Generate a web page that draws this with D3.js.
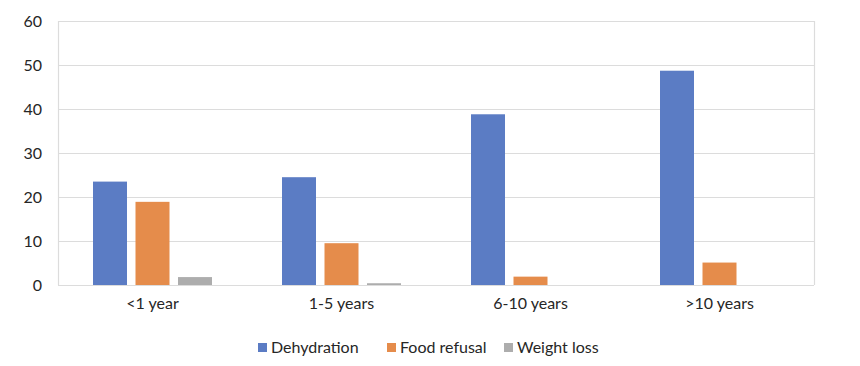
<!DOCTYPE html>
<html>
<head>
<meta charset="utf-8">
<script src="https://cdn.jsdelivr.net/npm/d3@7"></script>
<style>
  body { margin: 0; background: #fff; }
  text { font-family: Lato, "Open Sans", sans-serif; fill: #262626; }
</style>
</head>
<body>
<div id="chart"></div>
<script>
// data
const categories = ["<1 year", "1-5 years", "6-10 years", ">10 years"];
const seriesNames = ["Dehydration", "Food refusal", "Weight loss"];
const dehydration = [23.5, 24.5, 38.8, 48.7];
const foodRefusal = [18.9, 9.5, 1.9, 5.1];
const weightLoss = [1.8, 0.4, 0, 0];
const yTicks = [0, 10, 20, 30, 40, 50, 60];
const colors = ["#5B7CC4", "#E58C4B", "#ADADAD"];

const values = [dehydration, foodRefusal, weightLoss];

const W = 860, H = 366;
const margin = {top: 21, right: 46, bottom: 81, left: 58};
const width = W - margin.left - margin.right;
const height = H - margin.top - margin.bottom;

const svg = d3.select("#chart").append("svg")
    .attr("width", W)
    .attr("height", H);

const g = svg.append("g")
    .attr("transform", `translate(${margin.left},${margin.top})`);

const x = d3.scaleBand()
    .domain(categories)
    .range([0, width]);

const barW = 34, gap = 8.5;
const x1 = d3.scaleBand()
    .domain(seriesNames)
    .range([0, barW * 3 + gap * 2])
    .paddingInner(gap / (barW + gap));

const y = d3.scaleLinear()
    .domain([0, 60])
    .range([height, 0]);

// gridlines
g.append("g")
  .selectAll("line")
  .data(yTicks)
  .join("line")
    .attr("x1", 0)
    .attr("x2", width)
    .attr("y1", d => y(d) + 0.5)
    .attr("y2", d => y(d) + 0.5)
    .attr("stroke", "#dcdcdc")
    .attr("stroke-width", 1.2);

// box sides
g.append("line")
    .attr("x1", 0.5).attr("x2", 0.5)
    .attr("y1", 0).attr("y2", height)
    .attr("stroke", "#dcdcdc").attr("stroke-width", 1.2);
g.append("line")
    .attr("x1", width + 0.5).attr("x2", width + 0.5)
    .attr("y1", 0).attr("y2", height)
    .attr("stroke", "#dcdcdc").attr("stroke-width", 1.2);

// y axis labels
const yAxis = g.append("g")
    .call(d3.axisLeft(y).tickValues(yTicks).tickSize(0).tickPadding(16));
yAxis.select(".domain").remove();
yAxis.selectAll("text")
    .style("font-size", "16px")
    .attr("fill", "#262626");

// bars
const groups = g.append("g")
  .selectAll("g")
  .data(categories)
  .join("g")
    .attr("transform", c => `translate(${x(c) + x.bandwidth() / 2 - (barW * 3 + gap * 2) / 2},0)`);

groups.selectAll("rect")
  .data((c, i) => seriesNames.map((s, j) => ({s: s, v: values[j][i], c: colors[j]})))
  .join("rect")
    .attr("x", d => x1(d.s))
    .attr("width", x1.bandwidth())
    .attr("y", d => y(d.v))
    .attr("height", d => height - y(d.v))
    .attr("fill", d => d.c);

// x axis labels
const xAxis = g.append("g")
    .attr("transform", `translate(0,${height})`)
    .call(d3.axisBottom(x).tickSize(0).tickPadding(13));
xAxis.select(".domain").remove();
xAxis.selectAll("text")
    .style("font-size", "16px")
    .attr("fill", "#262626");

// legend
const legendX = [258, 387, 504];
const legend = svg.append("g")
  .selectAll("g")
  .data(seriesNames)
  .join("g")
    .attr("transform", (d, i) => `translate(${legendX[i]},343)`);
legend.append("rect")
    .attr("width", 9)
    .attr("height", 9)
    .attr("fill", (d, i) => colors[i]);
legend.append("text")
    .attr("x", 13)
    .attr("y", 10)
    .style("font-size", "16px")
    .text(d => d);
</script>
</body>
</html>
